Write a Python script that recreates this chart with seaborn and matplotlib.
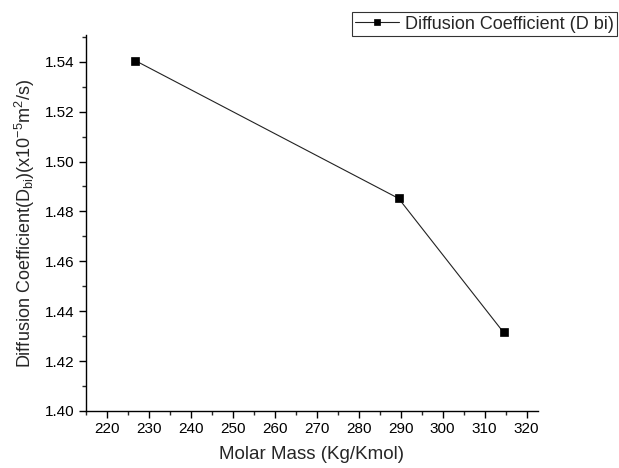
import pandas as pd
import matplotlib.pyplot as plt
import seaborn as sns
from matplotlib.ticker import MultipleLocator

# data
molar_mass = [226.7, 289.5, 314.5]
diff_coef = [1.5405, 1.4852, 1.4315]
series_name = "Diffusion Coefficient (D bi)"

df = pd.DataFrame({"Molar Mass": molar_mass, "D": diff_coef})

sns.set_theme(style="ticks")
plt.rcParams['font.family'] = ['Liberation Sans', 'DejaVu Sans']
plt.rcParams['mathtext.fontset'] = 'custom'
plt.rcParams['mathtext.rm'] = 'Liberation Sans'
plt.rcParams['mathtext.it'] = 'Liberation Sans'

fig = plt.figure(figsize=(6.19, 4.68), dpi=100)
ax = fig.add_axes([0.139, 0.122, 0.730, 0.803])

sns.lineplot(data=df, x="Molar Mass", y="D", marker="s", markersize=5.6,
             color="#222222", linewidth=0.8, markeredgecolor="black",
             markeredgewidth=0.5, label=series_name, ax=ax)
ax.lines[0].set_markerfacecolor("black")

ax.set_xlim(215, 322.7)
ax.set_ylim(1.40, 1.5507)
ax.xaxis.set_major_locator(MultipleLocator(10))
ax.xaxis.set_minor_locator(MultipleLocator(5))
ax.yaxis.set_major_locator(MultipleLocator(0.02))
ax.yaxis.set_minor_locator(MultipleLocator(0.01))
ax.yaxis.set_major_formatter(plt.FormatStrFormatter('%.2f'))
ax.set_xticks([t for t in range(220, 321, 10)])

for s in ["top", "right"]:
    ax.spines[s].set_visible(False)
for s in ["left", "bottom"]:
    ax.spines[s].set_linewidth(1.0)
    ax.spines[s].set_color("black")
ax.tick_params(which="major", direction="out", length=5, width=1.0,
               labelsize=11, colors="black", pad=3)
ax.tick_params(which="minor", direction="out", length=3, width=1.0)

ax.set_xlabel("Molar Mass (Kg/Kmol)", fontsize=13.5, labelpad=7)
ax.set_ylabel(r"Diffusion Coefficient(D$_{bi}$)(x10$^{-5}$m$^2$/s)",
              fontsize=13, labelpad=6)

leg = ax.legend(loc="upper left", bbox_to_anchor=(0.568, 0.974),
                bbox_transform=fig.transFigure, frameon=True, fancybox=False,
                edgecolor="black", fontsize=13, handlelength=2.4,
                handletextpad=0.35, borderpad=0.2, borderaxespad=0)
leg.get_frame().set_linewidth(0.8)
leg.legend_handles[0].set_markersize(4.5)

fig.savefig("out.png", dpi=100)
